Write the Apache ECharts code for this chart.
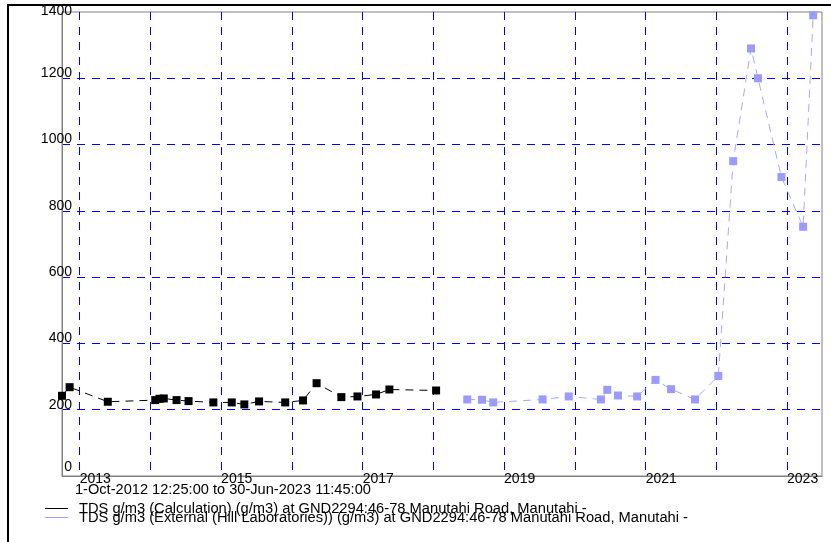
<!DOCTYPE html>
<html>
<head>
<meta charset="utf-8">
<script src="https://cdn.jsdelivr.net/npm/echarts@6/dist/echarts.min.js"></script>
<style>
html,body{margin:0;padding:0;background:#fff;}
#chart{width:831px;height:542px;}
</style>
</head>
<body>
<div id="chart"></div>
<script>
// ---- data ----
var seriesCalcName = 'TDS g/m3 (Calculation) (g/m3) at GND2294:46-78 Manutahi Road, Manutahi -';
var seriesExtName = 'TDS g/m3 (External (Hill Laboratories)) (g/m3) at GND2294:46-78 Manutahi Road, Manutahi -';
var periodText = '1-Oct-2012 12:25:00 to 30-Jun-2023 11:45:00';

var calcDates = ['2012-10-01 12:25','2012-11-10','2013-05-26','2014-01-26','2014-02-17','2014-03-11','2014-05-16','2014-07-17','2014-11-22','2015-02-25','2015-05-01','2015-07-16','2015-11-28','2016-02-28','2016-05-08','2016-09-13','2016-12-05','2017-03-11','2017-05-19','2018-01-15'];
var calcValues = [242,268,224,229,233,234,229,226,222,222,216,225,222,228,280,238,240,246,261,258];

var extDates = ['2018-06-25','2018-09-09','2018-11-06','2019-07-19','2019-12-01','2020-05-15','2020-06-17','2020-08-11','2020-11-18','2021-02-21','2021-05-12','2021-09-13','2022-01-11','2022-03-29','2022-06-29','2022-08-04','2022-12-03','2023-03-25','2023-05-16'];
var extValues = [231,230,222,231,240,231,260,243,240,290,262,231,302,950,1290,1200,902,752,1390];

var xMin = '2012-10-01 12:25:00';
var xMax = '2023-06-30 11:45:00';
var yTicks = [0,200,400,600,800,1000,1200,1400];

function pairs(d, v){ return d.map(function(x,i){ return [x, v[i]]; }); }

var FONT = 'Liberation Sans, Arial, sans-serif';
var chart = echarts.init(document.getElementById('chart'), null, {renderer:'canvas'});
chart.setOption({
  backgroundColor:'#fff',
  animation:false,
  title:{
    text: periodText, left:75, top:482, padding:0,
    textStyle:{fontFamily:FONT, fontSize:14.6, fontWeight:'normal', color:'#000'}
  },
  legend:[
    {data:[seriesCalcName], left:45, top:501, padding:0, orient:'vertical',
     icon:'rect', itemWidth:23, itemHeight:1, selectedMode:false,
     textStyle:{fontFamily:FONT, fontSize:14.7, color:'#000', padding:[0,0,0,6], lineHeight:14}},
    {data:[seriesExtName], left:45, top:510, padding:0, orient:'vertical',
     icon:'rect', itemWidth:23, itemHeight:1, selectedMode:false,
     textStyle:{fontFamily:FONT, fontSize:14.7, color:'#000', padding:[0,0,0,6], lineHeight:14}}
  ],
  graphic:[{type:'rect', silent:true, z:100, shape:{x:8, y:5, width:1000, height:1000},
    style:{fill:null, stroke:'#000', lineWidth:2}}],
  grid:{left:62, right:9, top:12, bottom:66, show:true, borderColor:'#808080', borderWidth:1, backgroundColor:'#fff'},
  xAxis:{
    type:'time', min:xMin, max:xMax, splitNumber:11,
    minInterval: 365*86400000, maxInterval: 366*86400000,
    axisLine:{show:true, lineStyle:{color:'#808080', width:1}},
    axisTick:{show:false},
    axisLabel:{
      margin:-4, align:'left', color:'#000', fontFamily:FONT, fontSize:14,
      showMinLabel:false, showMaxLabel:false, hideOverlap:false,
      formatter:function(v){
        var d = new Date(v);
        if (d.getMonth()!==0 || d.getDate()!==1 || d.getHours()!==0) return '';
        var y = d.getFullYear();
        return (y % 2 === 1) ? String(y) : '';
      }
    },
    splitLine:{show:true, showMinLine:false, showMaxLine:false, lineStyle:{color:'#0000ff', width:1, type:[8,7]}}
  },
  yAxis:{
    type:'value', min:yTicks[0], max:yTicks[yTicks.length-1], interval:200,
    axisLine:{show:true, lineStyle:{color:'#808080', width:1}},
    axisTick:{show:false},
    axisLabel:{margin:-10, align:'right', verticalAlign:'bottom', lineHeight:10,
      color:'#000', fontFamily:FONT, fontSize:14, showMaxLabel:true, showMinLabel:true,
      formatter:function(v){
        if (v === yTicks[0]) return '{z|' + v + '}';
        if (v === yTicks[yTicks.length-1]) return '{t|' + v + '}';
        return String(v);
      },
      rich:{
        z:{fontFamily:FONT, fontSize:14, color:'#000', lineHeight:18},
        t:{fontFamily:FONT, fontSize:14, color:'#000', lineHeight:1}
      }},
    splitLine:{show:true, showMinLine:false, showMaxLine:false, lineStyle:{color:'#0000ff', width:1, type:[8,7]}}
  },
  series:[
    {name:seriesCalcName, type:'line', data:pairs(calcDates, calcValues),
     symbol:'rect', symbolSize:8, color:'#000',
     itemStyle:{color:'#000'},
     lineStyle:{color:'#000', width:1, type:[8,6]}, clip:false},
    {name:seriesExtName, type:'line', data:pairs(extDates, extValues),
     symbol:'rect', symbolSize:8, color:'#9a9aff',
     itemStyle:{color:'#9a9aff'},
     lineStyle:{color:'#a8a8ff', width:1, type:[8,6]}, clip:false}
  ]
});
</script>
</body>
</html>
